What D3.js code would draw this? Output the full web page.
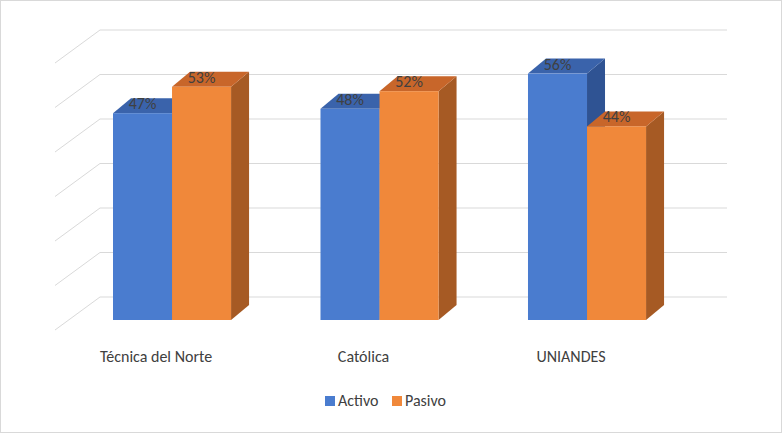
<!DOCTYPE html>
<html><head><meta charset="utf-8">
<script src="https://cdn.jsdelivr.net/npm/d3@7"></script>
<style>body{margin:0;background:#fff}svg{font-family:Calibri,Carlito,"Liberation Sans",sans-serif}</style>
</head><body><svg id="c" width="782" height="433"></svg>
<script>
const categories=["Técnica del Norte","Católica","UNIANDES"];
const series=["Activo","Pasivo"];
const activo=[47,48,56];
const pasivo=[53,52,44];
const ticks=[0,10,20,30,40,50,60];

const svg=d3.select("#c");
svg.append("rect").attr("x",0.5).attr("y",0.5).attr("width",781).attr("height",432).attr("fill","#fff").attr("stroke","#d9d9d9");
const dx=18,dy=-15;
const x0=d3.scaleBand().domain(categories).range([50.75,708.3]).paddingInner(0.431).paddingOuter(0.3);
const x1=d3.scaleBand().domain(series).range([0,x0.bandwidth()]);
const y=d3.scaleLinear().domain([0,60]).range([320,56]);
const yb=d3.scaleLinear().domain([0,60]).range([297,30]);
const g=svg.append("g");
ticks.forEach(t=>{
  const yy=yb(t);
  g.append("line").attr("x1",100).attr("x2",727).attr("y1",yy).attr("y2",yy).attr("stroke","#d9d9d9");
  g.append("line").attr("x1",55).attr("x2",100).attr("y1",yy+33).attr("y2",yy).attr("stroke","#d9d9d9");
});
const cols={Activo:{f:"#4a7ccf",t:"#3a63ab",s:"#2f5393"},Pasivo:{f:"#f0883a",t:"#c8662a",s:"#a65a24"}};
const data=[];
categories.forEach((c,i)=>{data.push({c,s:"Activo",v:activo[i]});data.push({c,s:"Pasivo",v:pasivo[i]});});
data.forEach(d=>{
  const xl=x0(d.c)+x1(d.s), w=x1.bandwidth(), yt=y(d.v), yB=y(0), col=cols[d.s];
  g.append("path").attr("d",`M${xl+w},${yt}L${xl+w+dx},${yt+dy}L${xl+w+dx},${yB+dy}L${xl+w},${yB}Z`).attr("fill",col.s);
  g.append("path").attr("d",`M${xl},${yt}L${xl+dx},${yt+dy}L${xl+w+dx},${yt+dy}L${xl+w},${yt}Z`).attr("fill",col.t);
  g.append("rect").attr("x",xl).attr("y",yt).attr("width",w).attr("height",yB-yt).attr("fill",col.f);
  g.append("text").attr("x",xl+w/2).attr("y",yt-4).attr("text-anchor","middle").attr("font-size",16).attr("fill","#404040").text(d.v+"%");
});
categories.forEach(c=>{
  svg.append("text").attr("x",x0(c)+x0.bandwidth()/2-16).attr("y",362).attr("text-anchor","middle").attr("font-size",16).attr("fill","#404040").text(c);
});
const lx=[325,392];
series.forEach((s,i)=>{
  svg.append("rect").attr("x",lx[i]).attr("y",396).attr("width",10).attr("height",10).attr("fill",cols[s].f);
  svg.append("text").attr("x",lx[i]+13).attr("y",406).attr("font-size",16).attr("fill","#404040").text(s);
});
</script></body></html>
